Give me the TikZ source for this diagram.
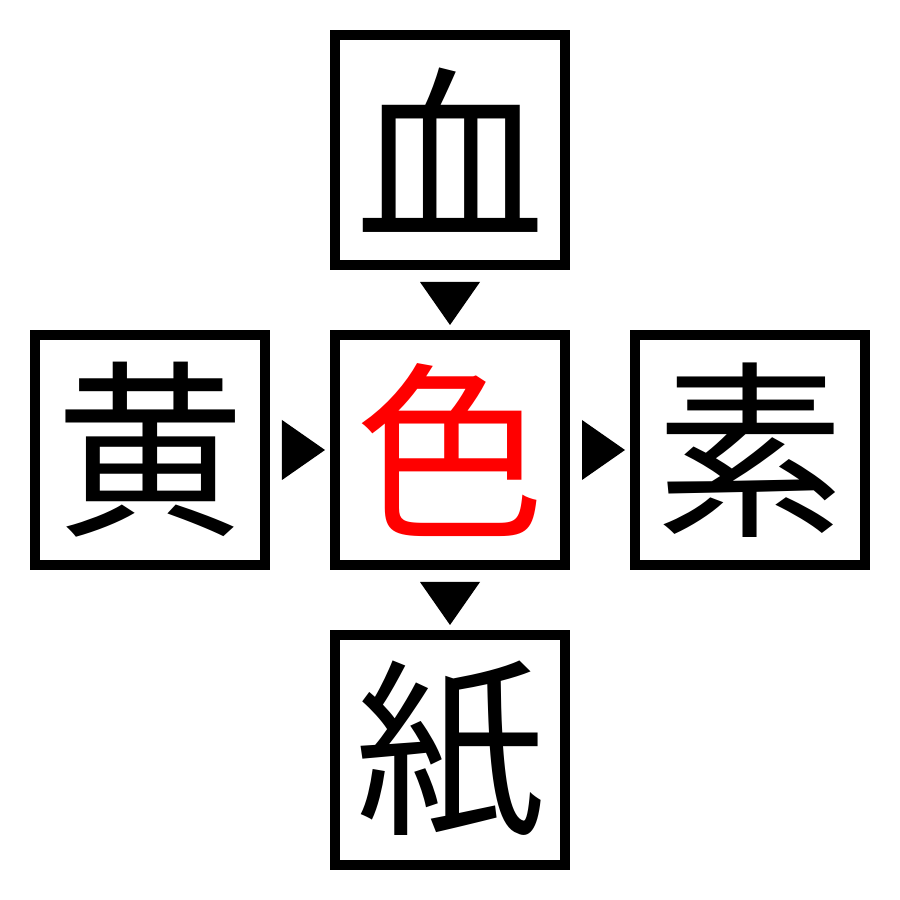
\documentclass[tikz,border=0pt]{standalone}
\usepackage{fontspec}
\newfontfamily\cjk{Noto Sans CJK JP}
\usetikzlibrary{positioning, calc}

\tikzset{
  kanji/.style={rectangle, draw, line width=0.1cm, minimum size=2.3cm, inner sep=0pt,
    font=\cjk\fontsize{54}{54}\selectfont},
  pointer/.style={fill=black}
}

\begin{document}
\begin{tikzpicture}[x=1cm, y=1cm]
\useasboundingbox (0,0) rectangle (9,9);
% cross of kanji boxes
\node[kanji, text=red] (iro) at (4.5,4.5) {色};
\node[kanji, above=0.6cm of iro] (chi) {血};
\node[kanji, left=0.6cm of iro] (ki) {黄};
\node[kanji, right=0.6cm of iro] (so) {素};
\node[kanji, below=0.6cm of iro] (kami) {紙};

% pointers between boxes
\fill[pointer] ($(chi.south)+(-0.3,-0.12)$) -- ($(chi.south)+(0.3,-0.12)$) -- ($(iro.north)+(0,0.05)$) -- cycle;
\fill[pointer] ($(iro.south)+(-0.3,-0.12)$) -- ($(iro.south)+(0.3,-0.12)$) -- ($(kami.north)+(0,0.05)$) -- cycle;
\fill[pointer] ($(ki.east)+(0.12,0.3)$) -- ($(ki.east)+(0.12,-0.3)$) -- ($(iro.west)+(-0.05,0)$) -- cycle;
\fill[pointer] ($(iro.east)+(0.12,0.3)$) -- ($(iro.east)+(0.12,-0.3)$) -- ($(so.west)+(-0.05,0)$) -- cycle;
\end{tikzpicture}
\end{document}
